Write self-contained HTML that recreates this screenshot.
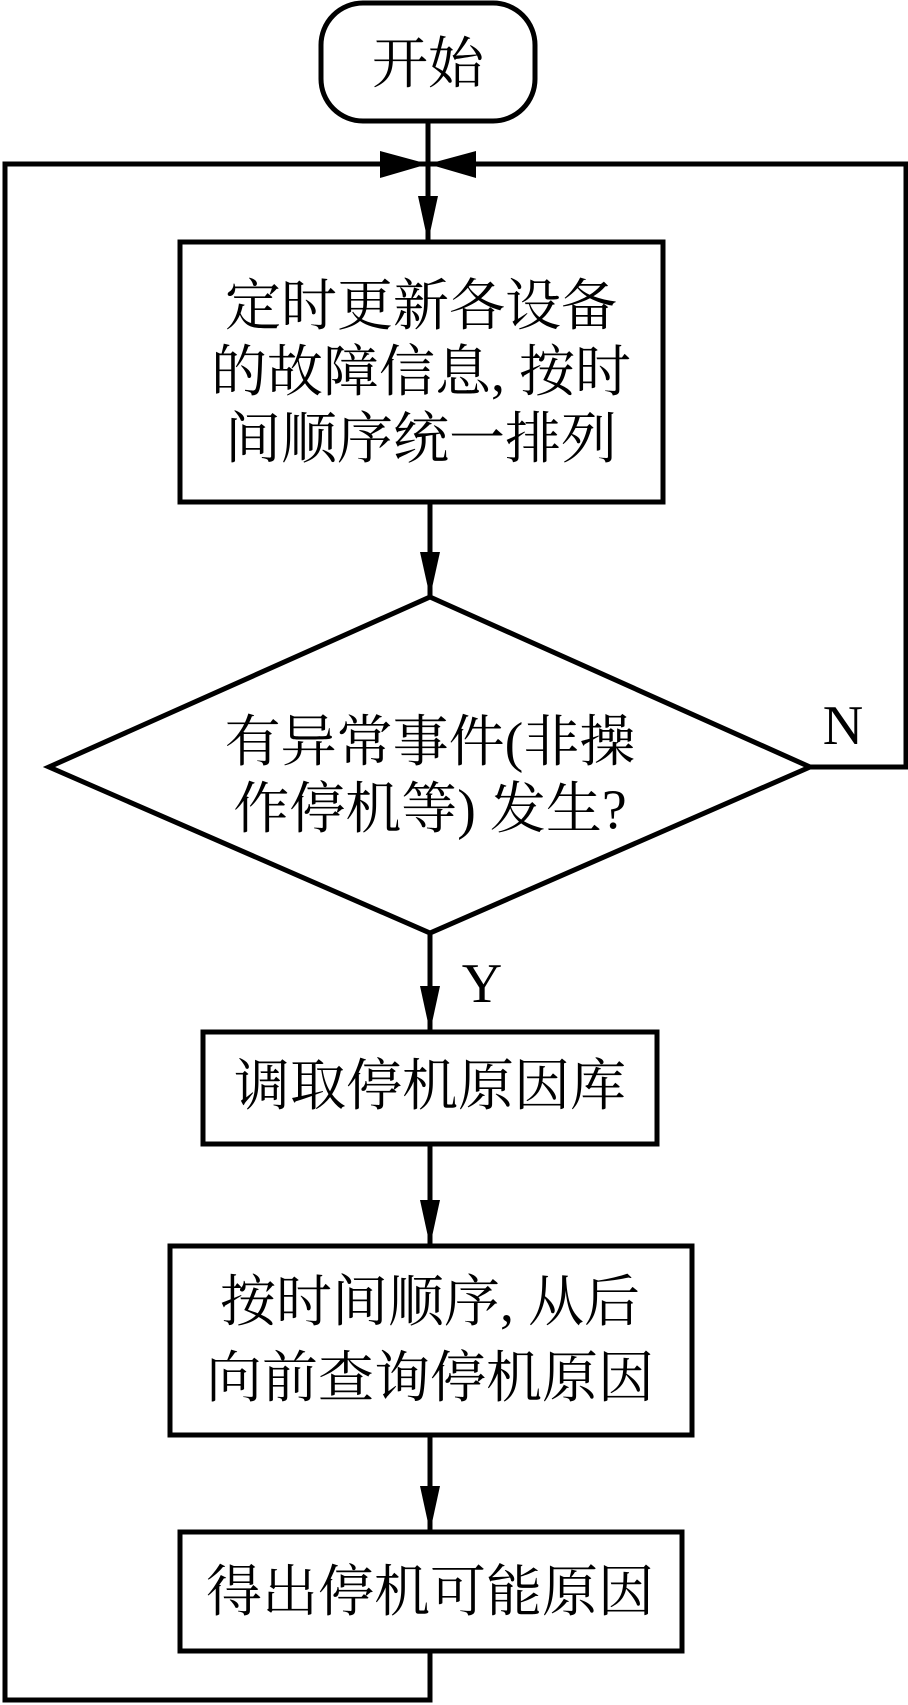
<!DOCTYPE html>
<html><head><meta charset="utf-8"><style>
html,body{margin:0;padding:0;background:#fff;}
svg{display:block;}
text{font-family:"Liberation Serif","Noto Serif CJK SC",serif;font-size:56px;fill:#000;text-anchor:middle;dominant-baseline:central;}
</style></head><body>
<svg width="908" height="1705" viewBox="0 0 908 1705" xmlns="http://www.w3.org/2000/svg">
<g fill="none" stroke="#000" stroke-width="5">
<rect x="321" y="3" width="214" height="118" rx="42" ry="42"/>
<rect x="180" y="242" width="483" height="260"/>
<polygon points="430,597 810,767 430,933 49,767"/>
<rect x="203" y="1032" width="454" height="112"/>
<rect x="170" y="1246" width="522" height="189"/>
<rect x="180" y="1532" width="502" height="119"/>
<line x1="428" y1="121" x2="428" y2="242"/>
<line x1="430" y1="502" x2="430" y2="597"/>
<line x1="430" y1="933" x2="430" y2="1032"/>
<line x1="430" y1="1144" x2="430" y2="1246"/>
<line x1="430" y1="1435" x2="430" y2="1532"/>
<polyline points="430,1651 430,1700 5,1700 5,164 428,164"/>
<polyline points="810,767 906,767 906,164 428,164"/>
</g>
<g fill="#000">
<polygon points="428,242 418,196 438,196"/>
<polygon points="428,164 380,151 380,178"/>
<polygon points="428,164 476,151 476,178"/>
<polygon points="430,597 420,552 440,552"/>
<polygon points="430,1032 420,986 440,986"/>
<polygon points="430,1246 420,1200 440,1200"/>
<polygon points="430,1532 420,1486 440,1486"/>
</g>
<text x="428" y="65">开始</text>
<text x="421" y="307">定时更新各设备</text>
<text x="421" y="373">的故障信息, 按时</text>
<text x="421" y="440">间顺序统一排列</text>
<text x="430" y="743">有异常事件(非操</text>
<text x="430" y="810">作停机等) 发生?</text>
<text x="843" y="726">N</text>
<text x="482" y="984">Y</text>
<text x="430" y="1087">调取停机原因库</text>
<text x="430" y="1303">按时间顺序, 从后</text>
<text x="430" y="1379">向前查询停机原因</text>
<text x="430" y="1593">得出停机可能原因</text>
</svg>
</body></html>
